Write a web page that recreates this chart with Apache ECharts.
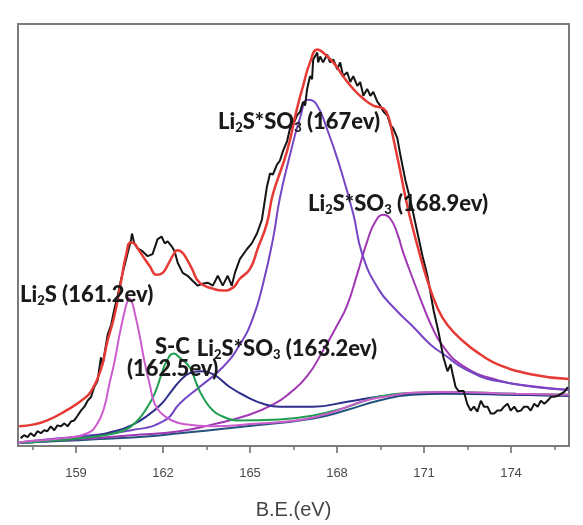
<!DOCTYPE html>
<html>
<head>
<meta charset="utf-8">
<script src="https://cdn.jsdelivr.net/npm/echarts@6/dist/echarts.min.js"></script>
<style>html,body{margin:0;padding:0;background:#fff}#c{width:583px;height:525px}</style>
</head>
<body>
<div id="c"></div>
<script>
// ---- measured spectrum (black) ----
const energyRaw = [157.09,157.21,157.33,157.44,157.56,157.67,157.79,157.90,158.01,158.13,158.25,158.36,158.48,158.60,158.71,158.83,158.94,159.06,159.17,159.29,159.40,159.52,159.63,159.74,159.81,159.86,159.92,160.09,160.21,160.33,160.44,160.56,160.67,160.78,160.90,160.93,161.01,161.12,161.29,161.47,161.64,161.81,161.95,162.06,162.16,162.30,162.40,162.51,162.68,162.85,163.02,163.20,163.37,163.54,163.72,163.89,164.06,164.23,164.37,164.48,164.65,164.89,165.06,165.24,165.41,165.58,165.69,165.79,165.93,166.03,166.14,166.28,166.38,166.48,166.62,166.73,166.83,166.90,166.97,167.07,167.14,167.18,167.32,167.35,167.42,167.52,167.66,167.76,167.87,168.01,168.11,168.21,168.35,168.46,168.56,168.70,168.80,168.91,169.04,169.15,169.25,169.39,169.49,169.60,169.74,169.84,169.94,170.08,170.19,170.36,170.53,170.78,170.95,171.12,171.33,171.50,171.67,171.81,171.92,171.99,172.09,172.19,172.37,172.49,172.61,172.72,172.84,172.96,173.07,173.19,173.30,173.42,173.53,173.65,173.76,173.88,173.99,174.11,174.22,174.34,174.45,174.57,174.68,174.80,174.92,175.03,175.15,175.26,175.38,175.49,175.61,175.72,175.84,175.96];
const countsRaw = [8,11,9,13,10,15,13,16,15,20,16,21,20,23,20,25,26,31,36,40,46,50,60,66,80,90,83,113,123,140,153,170,183,196,210,216,206,201,198,193,195,210,213,206,208,203,198,186,176,173,168,163,165,166,163,173,163,173,163,176,190,200,206,216,230,263,277,276,286,290,300,310,323,326,336,340,350,346,363,376,373,393,400,390,396,390,398,390,393,383,390,376,380,370,376,366,370,356,363,356,360,350,346,340,336,326,323,313,295,270,250,216,193,173,138,116,90,76,83,73,60,56,56,43,36,40,35,46,40,40,33,33,36,36,40,43,36,40,35,36,40,40,36,43,40,46,43,46,50,50,51,53,55,60];

// ---- fitted envelope (red) ----
const energyFit = [157.04,157.56,158.01,158.60,159.18,159.53,159.88,160.08,160.33,160.57,160.74,160.88,161.00,161.15,161.35,161.54,161.78,161.99,162.18,162.35,162.50,162.65,162.82,163.00,163.26,163.72,164.06,164.41,164.65,165.00,165.27,165.58,165.79,166.28,166.62,166.83,167.07,167.32,167.52,167.87,168.21,168.56,168.91,169.25,169.60,169.77,169.94,170.19,170.36,170.53,170.78,171.12,171.47,171.81,172.37,172.95,173.54,174.68,176.00];
const countsFit = [20,22,26,35,46,56,80,106,133,170,196,207,206,200,191,183,174,176,185,194,199,197,190,180,166,160,158,161,170,180,201,226,256,300,343,366,390,403,400,390,376,363,353,346,343,335,313,278,253,231,203,168,140,123,106,93,83,73,68];

// ---- fitted components ----
const energyLi2S = [157.00,157.45,158.60,159.39,159.74,159.98,160.15,160.33,160.50,160.67,160.76,160.84,160.93,161.02,161.19,161.36,161.54,161.71,161.95,162.30,162.75,163.72,164.89,167.18,169.42,171.74,174.17,176.00];
const countsLi2S = [3,5,8,13,23,40,63,86,113,136,146,150,146,136,113,86,63,43,33,26,22,20,22,29,49,55,53,52];

const energySC = [157.00,158.01,159.74,160.67,161.12,161.47,161.71,161.95,162.12,162.37,162.57,162.92,163.16,163.37,163.72,164.06,164.55,166.03,167.18,168.28,169.42,170.60,171.74,174.17,176.00];
const countsSC = [3,5,10,16,26,40,53,73,86,94,90,80,63,50,36,30,26,27,31,39,50,54,55,53,52];

const energySO3a = [157.00,157.45,159.18,160.33,160.91,161.47,161.95,162.30,162.64,162.92,163.26,163.72,164.30,164.89,165.45,166.03,167.18,168.35,169.42,170.60,171.74,174.17,176.00];
const countsSO3a = [3,4,8,15,21,31,43,56,68,74,76,73,60,50,43,40,40,45,50,53,54,52,51];

const energySO3b = [157.00,157.45,159.18,160.91,162.06,162.57,163.26,164.06,164.65,165.10,165.45,165.79,166.03,166.38,166.73,167.00,167.28,167.66,168.11,168.56,168.87,169.42,170.01,170.60,171.23,171.74,172.37,173.54,176.00];
const countsSO3b = [3,5,10,16,26,43,60,80,103,130,165,210,252,296,334,352,348,322,283,236,195,160,139,122,103,92,79,66,57];

const energySO3c = [157.00,159.18,160.91,162.57,163.72,164.89,165.79,166.38,166.97,167.52,168.01,168.35,168.70,169.04,169.32,169.60,169.84,170.08,170.29,170.64,170.95,171.23,171.64,172.37,173.54,174.68,176.00];
const countsSO3c = [3,7,11,15,22,31,42,54,71,97,123,143,175,208,228,235,231,216,196,168,144,124,102,81,67,61,57];

const energyBg = [157.00,158.42,159.81,161.54,162.57,164.89,167.18,168.28,169.42,170.60,171.74,174.17,176.00];
const countsBg = [3,5,7,10,13,20,28,36,46,52,53,52,51];

// ---- axis ----
const tickLabels = [159,162,165,168,171,174];
const minorTicks = [157.5,160.5,163.5,166.5,169.5,172.5,175.5];
const axisTitle = 'B.E.(eV)';

// ---- peak annotations: alternating main text / subscript ----
const labelLi2S = ['Li','2','S (161.2ev)'];
const labelSC1 = ['S-C'];
const labelSC2 = ['(162.5ev)'];
const labelSO3a = ['Li','2','S*SO','3',' (163.2ev)'];
const labelSO3b = ['Li','2','S*SO','3',' (167ev)'];
const labelSO3c = ['Li','2','S*SO','3',' (168.9ev)'];

function pts(xs, ys) { return xs.map((x, i) => [x, ys[i]]); }
function rich(parts) { return parts.map((p, i) => (i % 2 === 0 ? '{a|' : '{s|') + p + '}').join(''); }

const richStyles = {
  a: { fontFamily: 'Lato', fontWeight: 900, fontSize: 22, lineHeight: 22, fill: '#1a1a1a', verticalAlign: 'middle' },
  s: { fontFamily: 'Lato', fontWeight: 900, fontSize: 13, lineHeight: 13, fill: '#1a1a1a', verticalAlign: 'middle', padding: [12, 0, 0, 0] }
};
function lab(x, y, parts, align) {
  return { type: 'text', x: x, y: y, z: 100,
    style: { text: rich(parts), rich: richStyles, align: align || 'left', verticalAlign: 'middle', fill: '#1a1a1a' } };
}

function line(name, xs, ys, color, width, smooth, z) {
  return { name: name, type: 'line', data: pts(xs, ys), showSymbol: false, symbol: 'none',
    smooth: smooth, z: z,
    lineStyle: { color: color, width: width }, emphasis: { disabled: true }, silent: true };
}

const chart = echarts.init(document.getElementById('c'));
chart.setOption({
  animation: false,
  backgroundColor: '#ffffff',
  grid: { left: 18, right: 14, top: 24, bottom: 72, show: true, borderColor: '#7c7c7c', borderWidth: 2, backgroundColor: 'transparent' },
  xAxis: [
    { type: 'value', min: 157, max: 176,
      name: axisTitle, nameLocation: 'middle', nameGap: 54,
      nameTextStyle: { fontFamily: 'Liberation Sans', fontSize: 20, color: '#444' },
      axisLine: { show: false },
      axisTick: { show: true, inside: false, length: 7, customValues: tickLabels, lineStyle: { color: '#666', width: 1.5 } },
      axisLabel: { show: true, customValues: tickLabels, margin: 21, fontFamily: 'Liberation Sans', fontSize: 13, color: '#4a4a4a' },
      splitLine: { show: false } },
    { type: 'value', min: 157, max: 176, position: 'bottom',
      axisLine: { show: false },
      axisTick: { show: true, inside: false, length: 4, customValues: minorTicks, lineStyle: { color: '#777', width: 1.5 } },
      axisLabel: { show: false },
      splitLine: { show: false } }
  ],
  yAxis: { type: 'value', min: 0, max: 429, show: false },
  series: [
    line('background', energyBg, countsBg, '#24527a', 2, 0.5, 2),
    line('Li2S*SO3 168.9', energySO3c, countsSO3c, '#a038b4', 2, 0.5, 3),
    line('Li2S*SO3 167', energySO3b, countsSO3b, '#7445c4', 2, 0.5, 3),
    line('Li2S*SO3 163.2', energySO3a, countsSO3a, '#2e2e8c', 2, 0.5, 3),
    line('S-C', energySC, countsSC, '#1f9e50', 2, 0.5, 3),
    line('Li2S', energyLi2S, countsLi2S, '#cc5ccc', 2, 0.5, 3),
    line('raw', energyRaw, countsRaw, '#141414', 2, false, 4),
    line('fit', energyFit, countsFit, '#e53a35', 2.5, 0.5, 5)
  ],
  graphic: [
    lab(20, 295, labelLi2S),
    lab(155, 347, labelSC1),
    lab(127, 369, labelSC2),
    lab(377, 349, labelSO3a, 'right'),
    lab(218, 122, labelSO3b),
    lab(308, 204, labelSO3c)
  ]
});
</script>
</body>
</html>
